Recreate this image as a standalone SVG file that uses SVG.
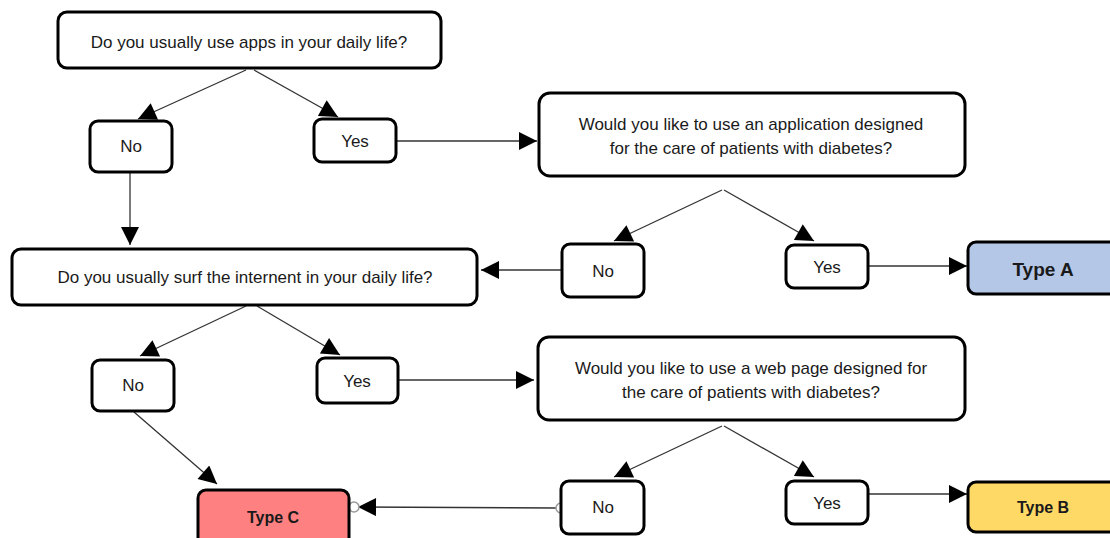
<svg xmlns="http://www.w3.org/2000/svg" width="1110" height="538" viewBox="0 0 1110 538">
<style>
.box{fill:#fff;stroke:#000;stroke-width:3}
.t{font-family:"Liberation Sans",Arial,sans-serif;font-size:17px;fill:#1a1a1a;text-anchor:middle}
.b{font-family:"Liberation Sans",Arial,sans-serif;font-weight:bold;fill:#1a1a1a;text-anchor:middle}
.c{fill:none;stroke:#333;stroke-width:1.3}
</style>
<defs>
<marker id="ah" viewBox="0 0 10 10" refX="10" refY="5" markerWidth="22" markerHeight="18" markerUnits="userSpaceOnUse" orient="auto">
<path d="M0,0 L10,5 L0,10 z" fill="#000"/>
</marker>
</defs>
<rect width="1110" height="538" fill="#fff"/>
<g id="connectors">
<line class="c" x1="246" y1="70" x2="138" y2="119" marker-end="url(#ah)"/>
<line class="c" x1="254" y1="70" x2="338" y2="117" marker-end="url(#ah)"/>
<line class="c" x1="396" y1="141" x2="537" y2="141" marker-end="url(#ah)"/>
<line class="c" x1="130" y1="172" x2="130" y2="245" marker-end="url(#ah)"/>
<line class="c" x1="722" y1="190" x2="614" y2="241" marker-end="url(#ah)"/>
<line class="c" x1="724" y1="190" x2="814" y2="241" marker-end="url(#ah)"/>
<line class="c" x1="562" y1="270" x2="481" y2="270" marker-end="url(#ah)"/>
<line class="c" x1="868" y1="266" x2="967" y2="266" marker-end="url(#ah)"/>
<line class="c" x1="246" y1="306" x2="140" y2="356" marker-end="url(#ah)"/>
<line class="c" x1="257" y1="306" x2="340" y2="355" marker-end="url(#ah)"/>
<line class="c" x1="398" y1="380" x2="534" y2="380" marker-end="url(#ah)"/>
<line class="c" x1="722" y1="426" x2="614" y2="477" marker-end="url(#ah)"/>
<line class="c" x1="724" y1="426" x2="814" y2="477" marker-end="url(#ah)"/>
<line class="c" x1="868" y1="494" x2="967" y2="494" marker-end="url(#ah)"/>
<line class="c" x1="134" y1="412" x2="217" y2="484" marker-end="url(#ah)"/>
<line class="c" x1="556" y1="508" x2="358" y2="507" marker-end="url(#ah)"/>
<circle cx="354" cy="507" r="5" fill="#fff" stroke="#999" stroke-width="1.5"/>
<circle cx="561" cy="508" r="5" fill="#fff" stroke="#999" stroke-width="1.5"/>
</g>
<g id="q1"><rect class="box" x="58" y="12" width="383" height="56" rx="9"/><text class="t" x="249" y="48">Do you usually use apps in your daily life?</text></g>
<g id="no1"><rect class="box" x="90" y="121" width="82" height="51" rx="8"/><text class="t" x="131" y="152">No</text></g>
<g id="yes1"><rect class="box" x="314" y="119" width="82" height="43" rx="8"/><text class="t" x="355" y="147">Yes</text></g>
<g id="q2"><rect class="box" x="539" y="93" width="426" height="83" rx="11"/><text class="t" x="751" y="130">Would you like to use an application designed</text><text class="t" x="751" y="154">for the care of patients with diabetes?</text></g>
<g id="q3"><rect class="box" x="12" y="249" width="465" height="56" rx="9"/><text class="t" x="245" y="283">Do you usually surf the internent in your daily life?</text></g>
<g id="no2"><rect class="box" x="562" y="244" width="82" height="53" rx="8"/><text class="t" x="603" y="277">No</text></g>
<g id="yes2"><rect class="box" x="786" y="245" width="82" height="43" rx="8"/><text class="t" x="827" y="273">Yes</text></g>
<g id="typeA"><rect class="box" x="968" y="242" width="152" height="52" rx="8" style="fill:#b4c7e7"/><text class="b" x="1043" y="276" font-size="19">Type A</text></g>
<g id="no3"><rect class="box" x="92" y="360" width="82" height="51" rx="8"/><text class="t" x="133" y="391">No</text></g>
<g id="yes3"><rect class="box" x="317" y="358" width="81" height="45" rx="8"/><text class="t" x="357" y="387">Yes</text></g>
<g id="q4"><rect class="box" x="538" y="337" width="427" height="83" rx="11"/><text class="t" x="751" y="374">Would you like to use a web page designed for</text><text class="t" x="751" y="398">the care of patients with diabetes?</text></g>
<g id="no4"><rect class="box" x="561" y="481" width="83" height="53" rx="8"/><text class="t" x="603" y="513">No</text></g>
<g id="yes4"><rect class="box" x="786" y="481" width="82" height="43" rx="8"/><text class="t" x="827" y="509">Yes</text></g>
<g id="typeB"><rect class="box" x="968" y="482" width="152" height="50" rx="8" style="fill:#ffd966"/><text class="b" x="1043" y="513" font-size="16">Type B</text></g>
<g id="typeC"><rect class="box" x="198" y="490" width="151" height="56" rx="8" style="fill:#ff8080"/><text class="b" x="273" y="523" font-size="16">Type C</text></g>
</svg>
